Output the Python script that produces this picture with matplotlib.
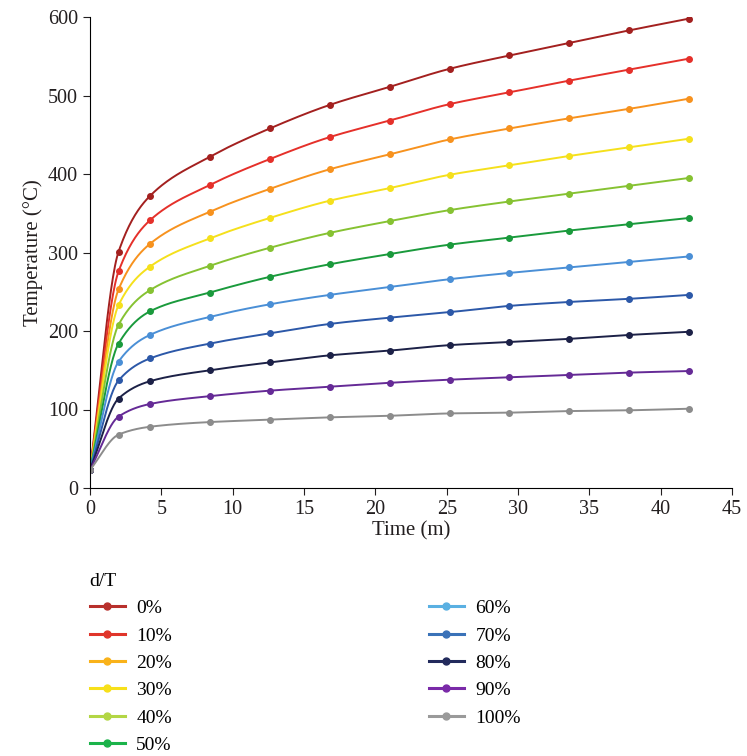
import matplotlib
matplotlib.use("Agg")
import matplotlib.pyplot as plt
import numpy as np

plt.rcParams['font.family'] = ['Liberation Serif', 'DejaVu Serif']

# time in minutes
time = [0, 2, 4.2, 8.4, 12.6, 16.8, 21, 25.2, 29.4, 33.6, 37.8, 42]

# temperature (°C) for each d/T ratio
t_0 = [23, 301, 372, 422, 458, 488, 511, 534, 551, 567, 583, 598]
t_10 = [23, 276, 341, 386, 419, 447, 468, 489, 504, 519, 533, 547]
t_20 = [23, 253, 311, 352, 381, 406, 425, 444, 458, 471, 483, 496]
t_30 = [23, 233, 282, 318, 344, 366, 382, 399, 411, 423, 434, 445]
t_40 = [23, 208, 252, 283, 306, 325, 340, 354, 365, 375, 385, 395]
t_50 = [23, 184, 225, 249, 269, 285, 298, 310, 319, 328, 336, 344]
t_60 = [23, 161, 195, 218, 234, 246, 256, 266, 274, 281, 288, 295]
t_70 = [23, 137, 165, 184, 197, 209, 217, 224, 232, 237, 241, 246]
t_80 = [23, 114, 136, 150, 160, 169, 175, 182, 186, 190, 195, 199]
t_90 = [23, 91, 107, 117, 124, 129, 134, 138, 141, 144, 147, 149]
t_100 = [23, 68, 78, 84, 87, 90, 92, 95, 96, 98, 99, 101]

series = [t_0, t_10, t_20, t_30, t_40, t_50, t_60, t_70, t_80, t_90, t_100]
labels = ['0%', '10%', '20%', '30%', '40%', '50%', '60%', '70%', '80%', '90%', '100%']
colors = ['#a3201f', '#e5302a', '#f7921e', '#f5e01c', '#86c232', '#1a9a3c',
          '#4a8fd6', '#2c58a8', '#1c2147', '#652a96', '#8c8c8c']
# legend swatches are a little lighter than the plotted lines
legend_colors = ['#b8302c', '#e0352a', '#f9b21a', '#f7e01a', '#b3d645', '#1bb34a',
                 '#5ab0e2', '#3a72b8', '#222a5c', '#7a2aa8', '#9a9a9a']


def pchip(x, y, xs):
    # monotone cubic curve through the points, for a smoothed line
    x = np.asarray(x, float)
    y = np.asarray(y, float)
    h = np.diff(x)
    d = np.diff(y) / h
    m = np.zeros(len(x))
    m[0] = d[0]
    m[-1] = d[-1]
    for k in range(1, len(x) - 1):
        if d[k - 1] * d[k] <= 0:
            m[k] = 0
        else:
            w1 = 2 * h[k] + h[k - 1]
            w2 = h[k] + 2 * h[k - 1]
            m[k] = (w1 + w2) / (w1 / d[k - 1] + w2 / d[k])
    idx = np.clip(np.searchsorted(x, xs) - 1, 0, len(x) - 2)
    t = (xs - x[idx]) / h[idx]
    h00 = 2 * t**3 - 3 * t**2 + 1
    h10 = t**3 - 2 * t**2 + t
    h01 = -2 * t**3 + 3 * t**2
    h11 = t**3 - t**2
    return (h00 * y[idx] + h10 * h[idx] * m[idx]
            + h01 * y[idx + 1] + h11 * h[idx] * m[idx + 1])


fig = plt.figure(figsize=(7.47, 7.56), dpi=100)
ax = fig.add_axes([0.1205, 0.3545, 0.8595, 0.623])

xs = np.linspace(time[0], time[-1], 600)
handles = []
for vals, lab, col, lcol in zip(series, labels, colors, legend_colors):
    ax.plot(xs, pchip(time, vals, xs), color=col, lw=1.4)
    ax.plot(time, vals, 'o', color=col, ms=4)
    h, = ax.plot([], [], '-o', color=lcol, lw=2.2, ms=5, label=lab)
    handles.append(h)

ax.set_xlim(0, 45)
ax.set_ylim(0, 600)
ax.set_xticks(range(0, 46, 5))
ax.set_yticks(range(0, 601, 100))
ax.spines['top'].set_visible(False)
ax.spines['right'].set_visible(False)
ax.tick_params(direction='out', length=5, labelsize=14.5, colors='#231f20')
ax.set_xlabel('Time (m)', fontsize=15, color='#231f20', labelpad=2)
ax.set_ylabel('Temperature (°C)', fontsize=15, color='#231f20', labelpad=4)

leg = fig.legend(handles=handles, ncol=2, loc='upper left',
                 bbox_to_anchor=(0.107, 0.255), borderpad=0,
                 frameon=False, title='d/T', title_fontsize=14, fontsize=14,
                 alignment='left', handlelength=1.8, handletextpad=0.6,
                 columnspacing=13.2, labelspacing=0.5)

fig.savefig('out.png', dpi=100)
